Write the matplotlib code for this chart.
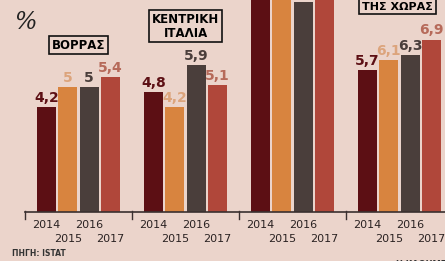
import matplotlib.pyplot as plt

# data (South group runs off the top of the crop)
regions = ["ΒΟΡΡΑΣ", "ΚΕΝΤΡΙΚΗ\nΙΤΑΛΙΑ", "ΝΟΤΟΣ", "ΣΥΝΟΛΟ\nΤΗΣ ΧΩΡΑΣ"]
years = ["2014", "2015", "2016", "2017"]
v2014 = [4.2, 4.8, 9.2, 5.7]
v2015 = [5.0, 4.2, 9.6, 6.1]
v2016 = [5.0, 5.9, 8.4, 6.3]
v2017 = [5.4, 5.1, 9.8, 6.9]

bar_colors = ["#5c0f14", "#d8843f", "#4a3e3b", "#b0473a"]
label_colors = ["#5c0f14", "#dca47c", "#4a3e3b", "#b66a5a"]
bg = "#ebd4cb"

plt.rcParams['font.family'] = ['Liberation Sans Narrow', 'DejaVu Sans']

fig = plt.figure(figsize=(4.45, 2.61), dpi=100, facecolor=bg)
ax = fig.add_axes([0, 0, 1, 1])
ax.set_facecolor(bg)
ymax = 8.48
ax.set_xlim(-0.734, 3.425)
ax.set_ylim(-1.96, ymax)
ax.axis('off')

offsets = [-0.3, -0.1, 0.1, 0.3]
series = [v2014, v2015, v2016, v2017]
for k, vals in enumerate(series):
    xs = [g + offsets[k] for g in range(len(regions))]
    ax.bar(xs, vals, width=0.178, color=bar_colors[k], zorder=2)
    for x, v in zip(xs, vals):
        # value labels only where they fall inside the cropped view
        if v + 0.6 < ymax:
            txt = f"{v:g}".replace('.', ',')
            ax.text(x, v + 0.08, txt, ha='center', va='bottom', fontsize=10,
                    fontweight='bold', color=label_colors[k], zorder=3)
        # year labels in two staggered rows
        ypos = -0.5 if k % 2 == 0 else -1.08
        ax.text(x, ypos, years[k], ha='center', va='center', fontsize=8,
                color="#2a2222")

# baseline and group separators
ax.plot([-0.5, 3.425], [0, 0], color="#3a3030", lw=1.2, zorder=4)
for s in [-0.5, 0.5, 1.5, 2.5]:
    ax.plot([s, s], [0.05, -0.28], color="#3a3030", lw=1.0, zorder=4)

# region boxes
box = dict(boxstyle='square,pad=0.25', fc=bg, ec='#111111', lw=1.2)
ax.text(0.0, 6.68, regions[0], ha='center', va='center', fontsize=8.5,
        fontweight='bold', bbox=box, linespacing=1.1)
ax.text(1.0, 7.44, regions[1], ha='center', va='center', fontsize=8.5,
        fontweight='bold', bbox=box, linespacing=1.1)
ax.text(2.98, 8.02, regions[3], ha='center', va='bottom', fontsize=8,
        fontweight='bold', bbox=box, linespacing=1.1)

fig.text(0.032, 0.915, "%", fontsize=17, family='DejaVu Serif',
         style='italic', color='#222222', va='center')
fig.text(0.027, 0.027, "ΠΗΓΗ: ISTAT", fontsize=5.5, fontweight='bold',
         color='#333333', va='center')
fig.text(0.89, -0.012, "Η ΚΑΘΗΜΕΡΙΝΗ", fontsize=6, fontweight='bold',
         color='#333333', va='center')

fig.savefig("out.png", dpi=100, facecolor=bg)
